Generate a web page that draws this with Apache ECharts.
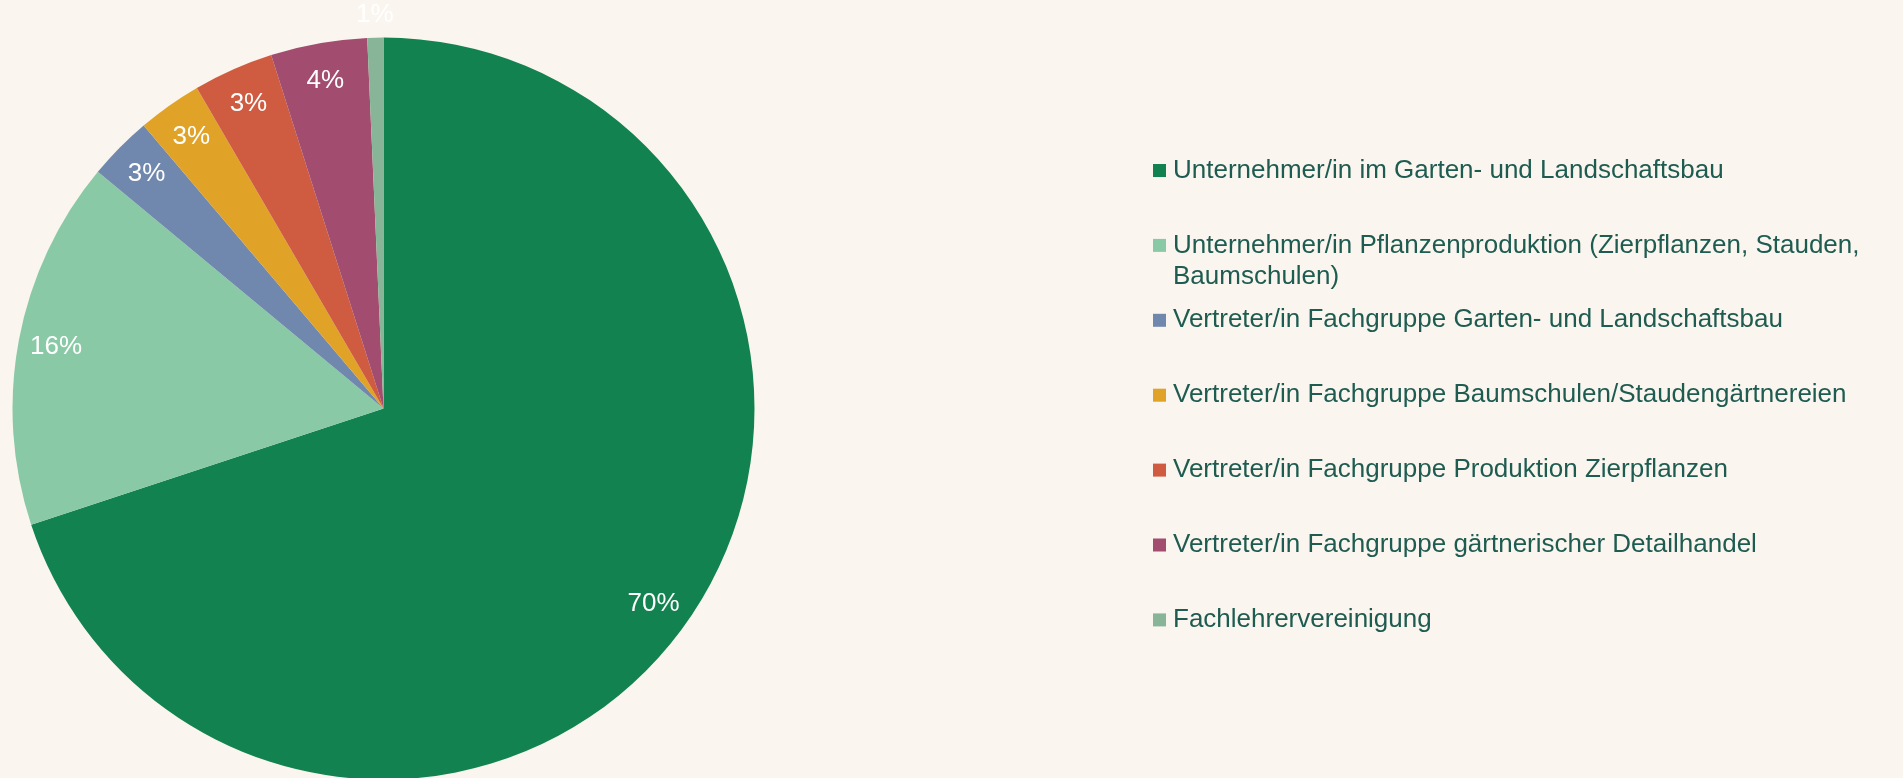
<!DOCTYPE html>
<html>
<head>
<meta charset="utf-8">
<title>Teilnehmer nach Gruppe</title>
<script src="https://cdn.jsdelivr.net/npm/echarts@6/dist/echarts.min.js"></script>
<style>
  html, body { margin: 0; padding: 0; background: #faf5ee; }
  #chart { width: 1903px; height: 778px; }
</style>
</head>
<body>
<div id="chart"></div>
<script>
// Gruppen (Legendenreihenfolge = Reihenfolge im Uhrzeigersinn ab 12 Uhr)
var categories = [
  "Unternehmer/in im Garten- und Landschaftsbau",
  "Unternehmer/in Pflanzenproduktion (Zierpflanzen, Stauden, Baumschulen)",
  "Vertreter/in Fachgruppe Garten- und Landschaftsbau",
  "Vertreter/in Fachgruppe Baumschulen/Staudengärtnereien",
  "Vertreter/in Fachgruppe Produktion Zierpflanzen",
  "Vertreter/in Fachgruppe gärtnerischer Detailhandel",
  "Fachlehrervereinigung"
];
// Anzahl Nennungen (aus dem Bild geschätzt)
var counts = [100, 23, 4, 4, 5, 6, 1];
// Kleine Segmente, deren Beschriftung außerhalb steht
var outsideLabels = [false, false, false, false, false, false, true];

var colors = ["#128350", "#89c9a6", "#7088ad", "#e0a328", "#cf5c40", "#a24d6f", "#88b497"];

var total = counts.reduce(function (a, b) { return a + b; }, 0);
function pct(v) { return Math.round(v / total * 100) + "%"; }

var CX = 383.5, CY = 408.6, R = 371;
var font = "'Liberation Sans', Arial, sans-serif";

var myChart = echarts.init(document.getElementById("chart"));

var pieData = categories.map(function (name, i) {
  return { name: name, value: counts[i] };
});

// Legenden einzeln setzen, damit die Zeilen wie im Original stehen
var legends = categories.map(function (name, i) {
  var rowY = 170.5 + i * 74.9;
  var twoLines = name.indexOf("Baumschulen)") >= 0;
  return {
    data: [{ name: name, itemStyle: { color: colors[i] } }],
    orient: "vertical",
    left: 1153,
    top: twoLines ? rowY - 46.5 : rowY - 15.5,
    padding: 0,
    icon: "rect",
    itemWidth: 13,
    itemHeight: 13,
    selectedMode: false,
    formatter: function (n) {
      // leere Zeile oben, damit das Symbol auf Höhe der ersten Textzeile bleibt
      return n.indexOf("Stauden, ") >= 0 ? " \n" + n.replace("Stauden, ", "Stauden,\n") : n;
    },
    textStyle: {
      color: "#1e5b50",
      fontSize: 26,
      fontFamily: font,
      lineHeight: 31,
      padding: [0, 0, 0, 2]
    }
  };
});

myChart.setOption({
  backgroundColor: "#faf5ee",
  color: colors,
  animation: false,
  legend: legends,
  series: [
    {
      name: "Gruppen",
      type: "pie",
      center: [CX, CY],
      radius: [0, R],
      startAngle: 90,
      clockwise: true,
      silent: true,
      label: { show: false },
      labelLine: { show: false },
      data: pieData
    },
    {
      // Beschriftungen innen (ca. 0,89 r)
      name: "Beschriftung",
      type: "pie",
      center: [CX, CY],
      radius: [R * 0.78, R],
      startAngle: 90,
      silent: true,
      legendHoverLink: false,
      avoidLabelOverlap: false,
      itemStyle: { color: "transparent" },
      label: {
        show: true,
        position: "inside",
        color: "#ffffff",
        fontSize: 26,
        fontFamily: font,
        formatter: function (p) { return pct(p.value); }
      },
      labelLine: { show: false },
      data: pieData.map(function (d, i) {
        return { name: d.name, value: d.value, label: { show: !outsideLabels[i] } };
      })
    },
    {
      // Beschriftungen außen (kleine Segmente)
      name: "Beschriftung außen",
      type: "pie",
      center: [CX, CY],
      radius: [R, R * 1.108],
      startAngle: 90,
      silent: true,
      legendHoverLink: false,
      avoidLabelOverlap: false,
      itemStyle: { color: "transparent" },
      label: {
        show: true,
        position: "inside",
        color: "#ffffff",
        fontSize: 26,
        fontFamily: font,
        formatter: function (p) { return pct(p.value); }
      },
      labelLine: { show: false },
      data: pieData.map(function (d, i) {
        return { name: d.name, value: d.value, label: { show: outsideLabels[i] } };
      })
    }
  ]
});

window.onresize = function () {
  myChart.resize();
};
</script>
</body>
</html>
